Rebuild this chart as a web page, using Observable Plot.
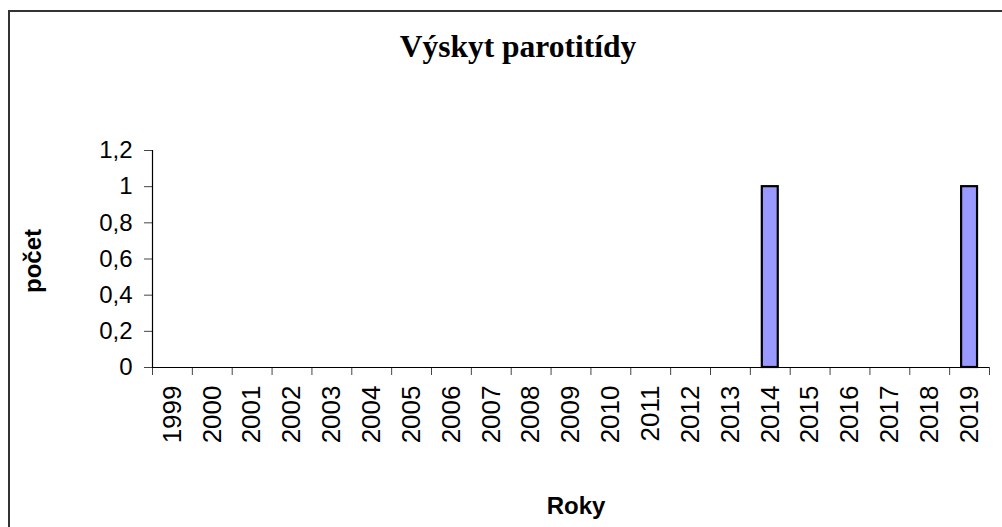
<!DOCTYPE html>
<html>
<head>
<meta charset="utf-8">
<script src="https://cdn.jsdelivr.net/npm/d3@7"></script>
<script src="https://cdn.jsdelivr.net/npm/@observablehq/plot@0.6"></script>
<style>
  html, body { margin: 0; padding: 0; background: #fff; overflow: hidden; }
  #frame { position: absolute; left: 8px; top: 10px; width: 1100px; height: 600px; border: 2px solid #333; background: #fff; }
  #title { position: absolute; left: 0; top: 19px; width: 1016px; text-align: center;
           font-family: "Liberation Serif", "Times New Roman", serif; font-weight: bold; font-size: 31.5px; line-height: 31.5px; color: #000; }
  #chart { position: absolute; left: 0; top: 100px; }
</style>
</head>
<body>
<div id="frame">
  <div id="title">Výskyt parotitídy</div>
  <div id="chart"></div>
</div>
<script>
const years = [1999, 2000, 2001, 2002, 2003, 2004, 2005, 2006, 2007, 2008, 2009, 2010, 2011, 2012, 2013, 2014, 2015, 2016, 2017, 2018, 2019];
const counts = [0, 0, 0, 0, 0, 0, 0, 0, 0, 0, 0, 0, 0, 0, 0, 1, 0, 0, 0, 0, 1];
const yTicks = [0, 0.2, 0.4, 0.6, 0.8, 1, 1.2];
const yLabel = "počet";
const xLabel = "Roky";

const data = years.map((year, i) => ({year, value: counts[i]}));
const xDomain = [years[0] - 0.5, years[years.length - 1] + 0.5];
const boundaries = years.map(y => y - 0.5).concat([years[years.length - 1] + 0.5]);
const half = 0.2;
const font = "'Liberation Sans', Arial, sans-serif";

const chart = Plot.plot({
  width: 992,
  height: 415,
  marginLeft: 142,
  marginRight: 13,
  marginTop: 38,
  marginBottom: 160,
  style: {fontFamily: font, fontSize: "24px", color: "#000", background: "transparent", overflow: "visible"},
  x: {type: "linear", domain: xDomain},
  y: {domain: [0, 1.2]},
  marks: [
    Plot.rectY(data, {
      filter: d => d.value > 0,
      x1: d => d.year - half,
      x2: d => d.year + half,
      y1: 0,
      y2: "value",
      fill: "#9999FF",
      stroke: "#000",
      strokeWidth: 2.2
    }),
    Plot.axisY({ticks: yTicks, tickSize: 8, tickPadding: 12, tickFormat: d => String(d).replace(".", ","), label: null, stroke: "#444", fontSize: 24}),
    Plot.axisX({ticks: boundaries, tickSize: 8, text: null, label: null, stroke: "#444"}),
    Plot.axisX({ticks: years, tickSize: 0, tickPadding: 18, tickRotate: -90, tickFormat: d => String(d), label: null, fontSize: 26}),
    Plot.ruleX([xDomain[0]], {stroke: "#000", strokeWidth: 1.2}),
    Plot.ruleY([0], {stroke: "#000", strokeWidth: 1.2}),
    Plot.text([yLabel], {frameAnchor: "left", textAnchor: "middle", dx: -119, dy: 2, rotate: -90, fontWeight: "bold", fontSize: 24, fill: "#000"}),
    Plot.text([xLabel], {frameAnchor: "bottom", dx: 5, dy: 146, fontWeight: "bold", fontSize: 24, fill: "#000"})
  ]
});
document.getElementById("chart").appendChild(chart);
</script>
</body>
</html>
